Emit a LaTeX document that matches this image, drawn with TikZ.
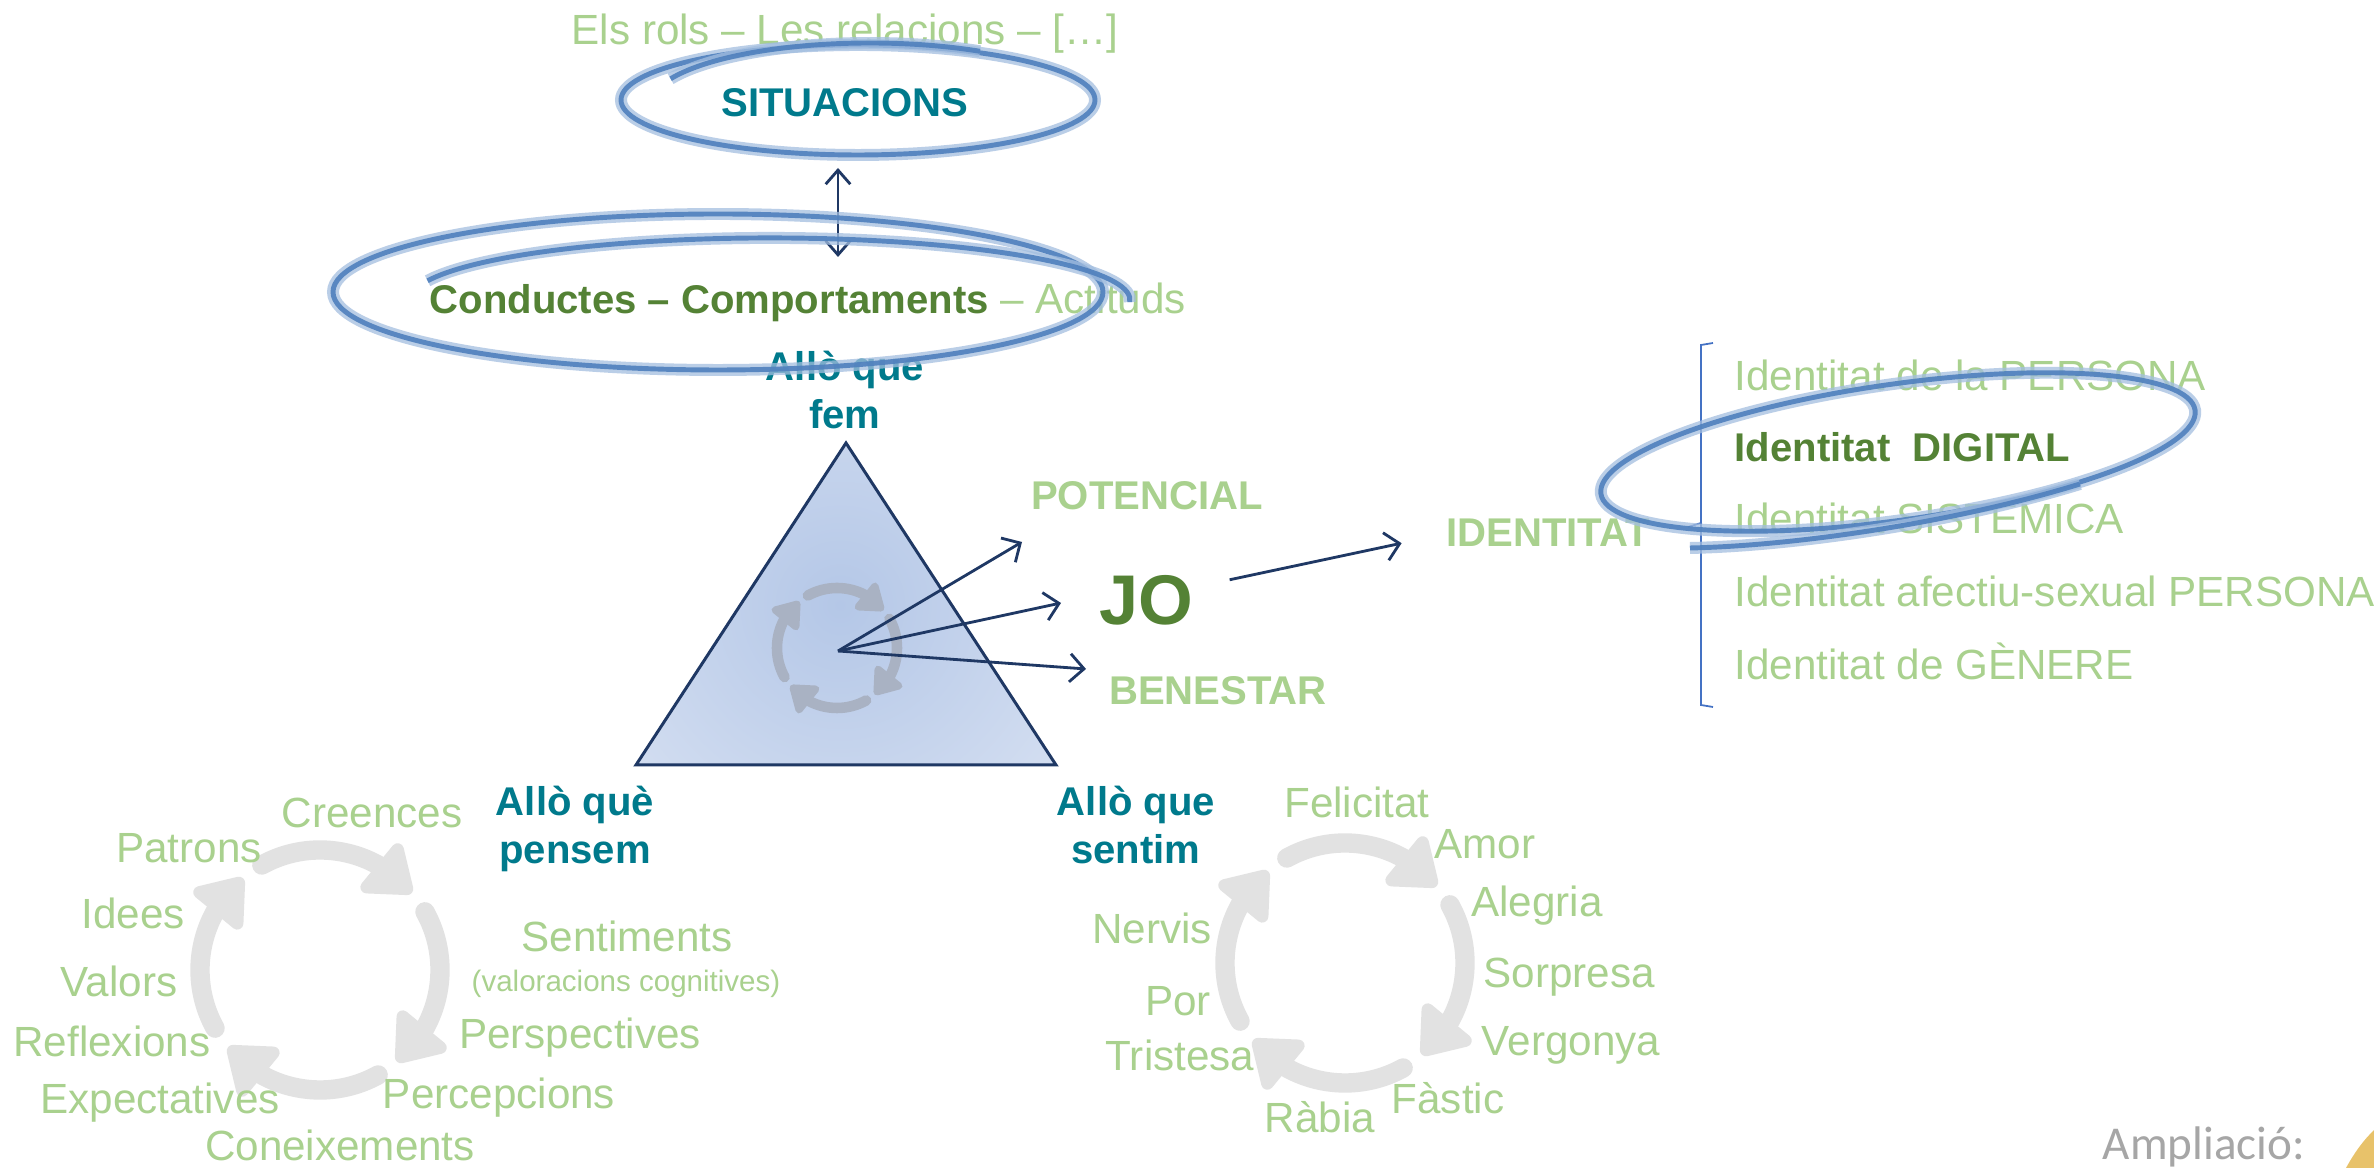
\documentclass[tikz,border=0pt]{standalone}
\usepackage{fontspec}
\setmainfont{Liberation Sans}
\newfontfamily\calibfont{Carlito}
\usetikzlibrary{arrows.meta,bending,calc}
\definecolor{lgreen}{HTML}{A9D18E}
\definecolor{dgreen}{HTML}{548235}
\definecolor{tealc}{HTML}{007A8C}
\definecolor{navyc}{HTML}{1F3864}
\definecolor{penc}{HTML}{4F80BD}
\definecolor{penl}{HTML}{A3BEE0}
\definecolor{cycc}{HTML}{E2E2E2}
\definecolor{tricyc}{HTML}{A9B2C3}
\definecolor{trout}{HTML}{DAE3F3}
\definecolor{trin}{HTML}{B4C7E7}
\definecolor{brkc}{HTML}{4472C4}
\definecolor{ampc}{HTML}{A6A6A6}
\definecolor{goldc}{HTML}{E8C26A}
\tikzset{
  lt/.style={text=lgreen, font=\fontsize{12}{14}\selectfont, inner sep=0pt, anchor=base},
  ltb/.style={text=lgreen, font=\bfseries\fontsize{11.4}{14}\selectfont, inner sep=0pt, anchor=base},
  tl/.style={text=tealc, font=\bfseries\fontsize{11.4}{14}\selectfont, inner sep=0pt, anchor=base},
  dg/.style={text=dgreen, font=\bfseries\fontsize{11.4}{14}\selectfont, inner sep=0pt, anchor=base},
  navarr/.style={draw=navyc, line width=0.8pt, -{Straight Barb[length=4pt,width=8pt]}},
  bigcyc/.style={draw=cycc, line width=5.5pt, line cap=round, -{Triangle[round,length=14pt,width=20pt]}},
  smallcyc/.style={draw=tricyc, line width=3pt, line cap=round, -{Triangle[round,length=8pt,width=11pt]}},
  penhalo/.style={draw=penl, line width=3.4pt, opacity=0.75},
  pencore/.style={draw=penc, line width=1.4pt, opacity=0.9},
}
\newcommand\penstroke[1]{\draw[penhalo] #1; \draw[pencore] #1;}
\begin{document}
\begin{tikzpicture}[x=0.01cm,y=-0.01cm]
\useasboundingbox (0,0) rectangle (2374,1168);
\fill[white] (0,0) rectangle (2374,1168);

% triangle
\coordinate (tA) at (846,443);
\coordinate (tL) at (636,765);
\coordinate (tR) at (1056,765);
\begin{scope}
  \clip (tA) -- (tL) -- (tR) -- cycle;
  \fill[trout] (tA) -- (tL) -- (tR) -- cycle;
  \shade[inner color=trin, outer color=trout] (840,605) circle (330);
\end{scope}
\draw[navyc, line width=0.85pt, line join=miter] (tA) -- (tL) -- (tR) -- cycle;

% small cycle inside triangle
\coordinate (sc) at (837,648);
\foreach \s in {-119,-29,61,151}{
  \draw[smallcyc] ($(sc)+(\s:60)$) arc[start angle=\s, end angle=\s+80, radius=60];
}

% big cycles
\coordinate (lc) at (320,970);
\coordinate (rc) at (1345,963);
\foreach \s in {-119,-29,61,151}{
  \draw[bigcyc] ($(lc)+(\s:120)$) arc[start angle=\s, end angle=\s+79, radius=120];
  \draw[bigcyc] ($(rc)+(\s:120)$) arc[start angle=\s, end angle=\s+79, radius=120];
}

% top texts
\node[lt] (rols) at (845,45) {Els rols – Les relacions – […]};
\node[tl] (sit) at (845,117) {SITUACIONS};
\node[dg, anchor=base west] (cond) at (429,314) {Conductes – Comportaments{\color{lgreen}\mdseries\fontsize{12}{14}\selectfont{} – Actituds}};
\node[tl] (fem1) at (845,381) {Allò que};
\node[tl] (fem2) at (845,429) {fem};
\node[tl] (pen1) at (575,816) {Allò què};
\node[tl] (pen2) at (575,864) {pensem};
\node[tl] (sen1) at (1136,816) {Allò que};
\node[tl] (sen2) at (1136,864) {sentim};

% JO area
\node[ltb] (pot) at (1147,510) {POTENCIAL};
\node[dg, font=\bfseries\fontsize{20}{24}\selectfont] (jo) at (1146,625) {JO};
\node[ltb] (ben) at (1218,705) {BENESTAR};
\node[ltb] (ident) at (1548,547) {IDENTITAT};

% arrows from triangle centre
\coordinate (tc) at (838,651);
\coordinate (p1) at (1022,542);
\coordinate (p2) at (1061,603);
\coordinate (p3) at (1086,669);
\draw[navarr] (tc) -- (p1);
\draw[navarr] (tc) -- (p2);
\draw[navarr] (tc) -- (p3);
\draw[navarr] ([shift={(36,-21)}]jo.east) -- ([shift={(-44,10)}]ident.west);
\coordinate (dtop) at (838,168);
\coordinate (dbot) at (838,257);
\draw[navarr, {Straight Barb[length=4pt,width=7pt]}-{Straight Barb[length=4pt,width=7pt]}] (dtop) -- (dbot);

% bracket
\draw[brkc, line width=0.5pt] (1713,343) -- (1701,345) -- (1701,705) -- (1713,707);
\draw[brkc, line width=0.5pt] (1701,523) -- (1688,527);

% identity list
\node[lt, anchor=base west] (id1) at (1734,391) {Identitat de la PERSONA};
\node[dg, anchor=base west] (id2) at (1734,462) {Identitat\ \ DIGITAL};
\node[lt, anchor=base west] (id3) at (1734,534) {Identitat SISTEMICA};
\node[lt, anchor=base west] (id4) at (1734,607) {Identitat afectiu-sexual PERSONA};
\node[lt, anchor=base west] (id5) at (1734,680) {Identitat de GÈNERE};

% left cycle words
\node[lt] (w1) at (372,828) {Creences};
\node[lt] (w2) at (189,863) {Patrons};
\node[lt] (w3) at (133,929) {Idees};
\node[lt] (w4) at (627,952) {Sentiments};
\node[lt, font=\fontsize{8.4}{10}\selectfont] (w5) at (626,992) {(valoracions cognitives)};
\node[lt] (w6) at (119,997) {Valors};
\node[lt] (w7) at (580,1049) {Perspectives};
\node[lt] (w8) at (112,1057) {Reflexions};
\node[lt] (w9) at (499,1109) {Percepcions};
\node[lt] (w10) at (160,1114) {Expectatives};
\node[lt] (w11) at (340,1161) {Coneixements};

% right cycle words
\node[lt] (e1) at (1357,818) {Felicitat};
\node[lt] (e2) at (1485,859) {Amor};
\node[lt] (e3) at (1537,917) {Alegria};
\node[lt] (e4) at (1152,944) {Nervis};
\node[lt] (e5) at (1569,988) {Sorpresa};
\node[lt] (e6) at (1178,1016) {Por};
\node[lt] (e7) at (1571,1056) {Vergonya};
\node[lt] (e8) at (1180,1071) {Tristesa};
\node[lt] (e9) at (1448,1114) {Fàstic};
\node[lt] (e10) at (1320,1133) {Ràbia};

% hand-drawn ellipses
\penstroke{(858,100) ellipse [x radius=237, y radius=55]}
\penstroke{(670.6,78.8) arc[start angle=205, end angle=300, x radius=220, y radius=62]}
\penstroke{(718,292) ellipse [x radius=385, y radius=78]}
\penstroke{(427.6,280.8) arc[start angle=198, end angle=362, x radius=360, y radius=62]}
\penstroke{[rotate around={8:(1898,452)}] (1898,452) ellipse [x radius=300, y radius=68]}
\penstroke{(1690,548) .. controls (1790,546) and (1950,524) .. (2080,484)}

% corner
\node[font=\calibfont\fontsize{13.4}{16}\selectfont, text=ampc, inner sep=0pt, anchor=base] (amp) at (2204,1160) {Ampliació:};
\fill[goldc] (2346,1168) .. controls (2356,1150) and (2364,1140) .. (2374,1130) -- (2374,1168) -- cycle;
\end{tikzpicture}
\end{document}
